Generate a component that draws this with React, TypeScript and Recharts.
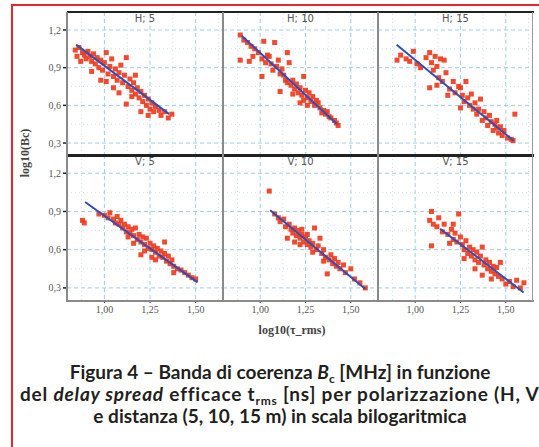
import { ScatterChart, Scatter, XAxis, YAxis, CartesianGrid, ReferenceLine } from "recharts"

const xTicks = [1.0, 1.25, 1.5]
const yTicks = [0.3, 0.6, 0.9, 1.2]
const xMinor = [0.875, 1.125, 1.375, 1.625]
const yMinor = [0.45, 0.75, 1.05]
const panelLabels = ["H; 5", "H; 10", "H; 15", "V; 5", "V; 10", "V; 15"]

// log10(tau_rms), log10(Bc)
const h5 = [
  [0.84, 1.04], [0.85, 0.99], [0.86, 1.06], [0.87, 0.95], [0.88, 1.02], [0.89, 1.0], [0.9, 0.97],
  [0.91, 1.03], [0.92, 0.99], [0.93, 0.95], [0.94, 1.01], [0.95, 0.93], [0.96, 0.98], [0.97, 0.9],
  [0.98, 0.96], [0.99, 0.88], [1.0, 0.94], [1.01, 1.02], [1.02, 0.85], [1.03, 0.91], [1.04, 0.97],
  [1.05, 0.83], [1.06, 0.89], [1.07, 0.8], [1.08, 0.86], [1.09, 0.92], [1.1, 0.78], [1.11, 0.84],
  [1.12, 0.98], [1.13, 0.75], [1.14, 0.81], [1.15, 0.72], [1.16, 0.78], [1.17, 0.69], [1.18, 0.74],
  [1.19, 0.66], [1.2, 0.71], [1.21, 0.63], [1.22, 0.68], [1.23, 0.6], [1.24, 0.65], [1.25, 0.57],
  [1.26, 0.62], [1.27, 0.55], [1.28, 0.59], [1.3, 0.56], [1.31, 0.52], [1.33, 0.55], [1.35, 0.5],
  [1.37, 0.53], [1.12, 0.61], [1.05, 0.74], [0.98, 0.8], [0.93, 0.87], [1.2, 0.55], [1.24, 0.52],
  [1.15, 0.67], [1.01, 0.79], [1.08, 0.7], [1.17, 0.84],
]
const h10 = [
  [0.89, 1.16], [0.91, 1.12], [0.93, 1.1], [0.95, 1.07], [0.97, 1.05], [1.02, 1.11], [1.08, 1.1],
  [1.15, 1.02], [0.89, 0.96], [0.94, 0.95], [0.99, 1.02], [1.01, 0.97], [1.03, 0.94], [1.04, 1.0],
  [1.06, 0.93], [1.07, 0.88], [1.09, 0.91], [1.11, 0.85], [1.12, 0.89], [1.16, 0.94], [1.01, 0.83],
  [1.14, 0.8], [1.13, 0.84], [1.17, 0.76], [1.18, 0.8], [1.19, 0.73], [1.2, 0.77], [1.21, 0.7],
  [1.22, 0.74], [1.24, 0.83], [1.23, 0.68], [1.25, 0.72], [1.26, 0.66], [1.27, 0.7], [1.28, 0.63],
  [1.29, 0.67], [1.3, 0.6], [1.31, 0.64], [1.11, 0.71], [1.18, 0.69], [1.33, 0.58], [1.34, 0.54],
  [1.35, 0.56], [1.36, 0.53], [1.37, 0.55], [1.38, 0.51], [1.39, 0.5], [1.41, 0.48], [1.42, 0.46],
  [1.43, 0.44], [1.05, 0.99], [1.1, 0.96], [1.26, 0.6], [1.24, 0.64], [1.15, 0.78], [0.96, 0.99],
  [1.22, 0.62], [1.32, 0.62],
]
const h15 = [
  [0.9, 0.96], [0.92, 1.0], [0.95, 0.97], [0.97, 0.95], [0.99, 1.03], [1.01, 0.93], [1.03, 0.9],
  [1.06, 0.98], [1.08, 1.02], [1.09, 0.94], [1.1, 0.88], [1.11, 0.99], [1.12, 0.91], [1.14, 0.97],
  [1.16, 0.96], [1.13, 0.82], [1.15, 0.79], [1.17, 0.86], [1.08, 0.74], [1.12, 0.76], [1.19, 0.73],
  [1.21, 0.79], [1.22, 0.7], [1.24, 0.75], [1.25, 0.74], [1.26, 0.68], [1.28, 0.79], [1.27, 0.63],
  [1.29, 0.66], [1.3, 0.6], [1.31, 0.69], [1.33, 0.62], [1.35, 0.57], [1.34, 0.53], [1.36, 0.65],
  [1.38, 0.55], [1.39, 0.5], [1.41, 0.52], [1.42, 0.47], [1.4, 0.44], [1.43, 0.4], [1.44, 0.45],
  [1.45, 0.42], [1.46, 0.38], [1.47, 0.43], [1.48, 0.36], [1.49, 0.4], [1.51, 0.34], [1.53, 0.33],
  [1.54, 0.32], [1.55, 0.53], [1.25, 0.58], [1.37, 0.48], [1.32, 0.57], [1.18, 0.68], [1.45, 0.48],
]
const v5 = [
  [0.88, 0.83], [0.89, 0.81], [0.97, 0.88], [1.0, 0.87], [1.02, 0.85], [1.03, 0.89], [1.05, 0.84],
  [1.06, 0.81], [1.07, 0.86], [1.08, 0.8], [1.09, 0.83], [1.1, 0.77], [1.11, 0.8], [1.12, 0.74],
  [1.13, 0.78], [1.14, 0.73], [1.15, 0.76], [1.16, 0.71], [1.17, 0.77], [1.18, 0.68], [1.19, 0.72],
  [1.2, 0.66], [1.21, 0.7], [1.22, 0.64], [1.23, 0.69], [1.24, 0.61], [1.25, 0.65], [1.26, 0.6],
  [1.27, 0.63], [1.28, 0.58], [1.29, 0.61], [1.3, 0.55], [1.31, 0.59], [1.32, 0.54], [1.33, 0.57],
  [1.34, 0.51], [1.35, 0.55], [1.36, 0.49], [1.37, 0.52], [1.38, 0.47], [1.4, 0.45], [1.42, 0.44],
  [1.44, 0.42], [1.46, 0.4], [1.48, 0.38], [1.5, 0.37], [1.33, 0.66], [1.2, 0.56], [1.16, 0.65],
  [1.26, 0.54], [1.22, 0.59], [1.38, 0.42], [1.13, 0.7], [1.28, 0.52],
]
const v10 = [
  [1.05, 1.06], [1.08, 0.88], [1.1, 0.85], [1.11, 0.82], [1.13, 0.84], [1.14, 0.78], [1.15, 0.69],
  [1.16, 0.8], [1.17, 0.76], [1.18, 0.73], [1.19, 0.77], [1.2, 0.71], [1.21, 0.75], [1.22, 0.69],
  [1.23, 0.72], [1.24, 0.66], [1.25, 0.7], [1.26, 0.64], [1.27, 0.67], [1.28, 0.62], [1.29, 0.65],
  [1.3, 0.77], [1.31, 0.6], [1.32, 0.63], [1.33, 0.69], [1.34, 0.57], [1.35, 0.6], [1.36, 0.54],
  [1.37, 0.41], [1.38, 0.52], [1.39, 0.56], [1.4, 0.49], [1.41, 0.53], [1.42, 0.47], [1.43, 0.5],
  [1.44, 0.45], [1.46, 0.48], [1.47, 0.42], [1.5, 0.45], [1.52, 0.37], [1.55, 0.34], [1.58, 0.3],
  [1.22, 0.64], [1.26, 0.72], [1.19, 0.66], [1.29, 0.58], [1.35, 0.51], [1.23, 0.76],
]
const v15 = [
  [1.09, 0.9], [1.08, 0.83], [1.1, 0.8], [1.09, 0.63], [1.12, 0.78], [1.13, 0.85], [1.15, 0.74],
  [1.16, 0.8], [1.18, 0.72], [1.2, 0.76], [1.21, 0.68], [1.22, 0.73], [1.24, 0.88], [1.23, 0.66],
  [1.25, 0.7], [1.26, 0.64], [1.27, 0.6], [1.28, 0.67], [1.29, 0.57], [1.3, 0.62], [1.31, 0.55],
  [1.32, 0.6], [1.33, 0.52], [1.34, 0.58], [1.35, 0.5], [1.36, 0.55], [1.37, 0.62], [1.38, 0.48],
  [1.39, 0.52], [1.4, 0.45], [1.41, 0.5], [1.42, 0.43], [1.43, 0.47], [1.44, 0.41], [1.45, 0.46],
  [1.46, 0.39], [1.47, 0.5], [1.48, 0.37], [1.37, 0.4], [1.5, 0.33], [1.52, 0.35], [1.54, 0.31],
  [1.56, 0.36], [1.58, 0.3], [1.6, 0.34], [1.19, 0.65], [1.27, 0.53], [1.33, 0.45], [1.42, 0.37],
  [1.21, 0.8],
]

// fitted lines: start and end points
const fitH5 = [[0.845, 1.083], [1.355, 0.53]]
const fitH10 = [[0.898, 1.154], [1.423, 0.451]]
const fitH15 = [[0.898, 1.083], [1.543, 0.319]]
const fitV5 = [[0.894, 0.974], [1.511, 0.343]]
const fitV10 = [[1.055, 0.909], [1.58, 0.291]]
const fitV15 = [[1.138, 0.764], [1.598, 0.264]]

const series = [h5, h10, h15, v5, v10, v15]
const fits = [fitH5, fitH10, fitH15, fitV5, fitV10, fitV15]

const colLeft = [67, 223, 378]
const colWidth = [156, 155, 155]
const rowTop = [12, 155]
const rowHeight = [143, 145]
const yAxisW = 55
const xAxisH = 22

const axisFont = "'Liberation Serif', 'DejaVu Serif', serif"
const comma = (v: number, d: number) => v.toFixed(d).replace(".", ",")

const SquareDot = (props: any) => {
  const { cx, cy } = props
  if (cx == null || cy == null) return null
  return <rect x={cx - 2.5} y={cy - 2.5} width={5} height={5} fill="#f03b1d" fillOpacity={0.92} />
}
const NoDot = () => null

function Panel({ idx }: { idx: number }) {
  const col = idx % 3
  const row = Math.floor(idx / 3)
  const showY = col === 0
  const showX = row === 1
  const w = colWidth[col] + (showY ? yAxisW : 0)
  const h = rowHeight[row] + (showX ? xAxisH : 0)
  const data = series[idx].map(([x, y]) => ({ x, y }))
  const fitData = fits[idx].map(([x, y]) => ({ x, y }))
  return (
    <div style={{ position: "absolute", left: colLeft[col] - (showY ? yAxisW : 0), top: rowTop[row] }}>
      <ScatterChart width={w} height={h} margin={{ top: 0, right: 0, bottom: 0, left: 0 }}>
        <CartesianGrid horizontalValues={yTicks} verticalValues={xTicks} stroke="#9fcdea" strokeDasharray="4 3" />
        {xMinor.map((v) => (
          <ReferenceLine key={"vx" + v} x={v} stroke="#c6e3f4" strokeDasharray="1 3" />
        ))}
        {yMinor.map((v) => (
          <ReferenceLine key={"hy" + v} y={v} stroke="#c6e3f4" strokeDasharray="1 3" />
        ))}
        <XAxis
          type="number"
          dataKey="x"
          domain={[0.795, 1.65]}
          ticks={xTicks}
          hide={!showX}
          height={xAxisH}
          allowDataOverflow
          axisLine={false}
          tickLine={{ stroke: "#333" }}
          tickSize={3}
          tickMargin={3}
          tickFormatter={(v: number) => comma(v, 2)}
          tick={{ fill: "#555", fontSize: 10, fontFamily: axisFont }}
        />
        <YAxis
          type="number"
          dataKey="y"
          domain={[0.205, 1.343]}
          ticks={yTicks}
          hide={!showY}
          width={yAxisW}
          allowDataOverflow
          axisLine={false}
          tickLine={{ stroke: "#222", strokeWidth: 1.5 }}
          tickSize={4}
          tickMargin={2}
          tickFormatter={(v: number) => comma(v, 1)}
          tick={{ fill: "#555", fontSize: 10, fontFamily: axisFont }}
        />
        <Scatter data={data} shape={SquareDot} isAnimationActive={false} />
        <Scatter
          data={fitData}
          shape={NoDot}
          line={{ stroke: "#2c4fb8", strokeWidth: 2 }}
          isAnimationActive={false}
        />
      </ScatterChart>
      <div
        style={{
          position: "absolute",
          left: showY ? yAxisW : 0,
          width: colWidth[col],
          top: 1,
          textAlign: "center",
          fontFamily: "'DejaVu Sans', sans-serif",
          fontSize: 10,
          color: "#555",
        }}
      >
        {panelLabels[idx]}
      </div>
    </div>
  )
}

const line = (style: React.CSSProperties) => <div style={{ position: "absolute", ...style }} />

export default function App() {
  const capFont = "Lato, 'Open Sans', sans-serif"
  const sub: React.CSSProperties = { fontSize: 12, verticalAlign: "-4px", lineHeight: 0 }
  const capLine: React.CSSProperties = { position: "absolute", left: 0, width: 560, textAlign: "center", whiteSpace: "nowrap" }
  return (
    <div style={{ position: "fixed", left: 0, top: 0, width: 539, height: 447, background: "#fff", overflow: "hidden" }}>
      <div style={{ position: "absolute", left: 11, top: 4, width: 600, height: 600, border: "2px solid #e8262c" }} />
      {[0, 1, 2, 3, 4, 5].map((i) => (
        <Panel key={i} idx={i} />
      ))}
      {/* panel frame */}
      {line({ left: 67, top: 11, width: 467, height: 2, background: "#222" })}
      {line({ left: 67, top: 154, width: 467, height: 3, background: "#222" })}
      {line({ left: 66, top: 300, width: 468, height: 2, background: "#8a8a8a" })}
      {line({ left: 66, top: 12, width: 2, height: 290, background: "#8a8a8a" })}
      {line({ left: 222, top: 12, width: 2, height: 290, background: "#8a8a8a" })}
      {line({ left: 377, top: 12, width: 2, height: 290, background: "#8a8a8a" })}
      {line({ left: 532, top: 12, width: 1, height: 290, background: "#9a9a9a" })}
      {/* axis titles */}
      <div
        style={{
          position: "absolute",
          left: 25,
          top: 153,
          transform: "translate(-50%, -50%) rotate(-90deg)",
          fontFamily: axisFont,
          fontWeight: "bold",
          fontSize: 12,
          color: "#444",
          whiteSpace: "nowrap",
        }}
      >
        log10(Bc)
      </div>
      <div
        style={{
          position: "absolute",
          left: 292,
          top: 330,
          transform: "translate(-50%, -50%)",
          fontFamily: axisFont,
          fontWeight: "bold",
          fontSize: 12,
          color: "#444",
          whiteSpace: "nowrap",
        }}
      >
        log10(τ_rms)
      </div>
      {/* caption */}
      <div style={{ position: "absolute", left: 0, top: 361, fontFamily: capFont, fontWeight: 700, fontSize: 19, lineHeight: "22px", color: "#231f20" }}>
        <div style={{ ...capLine, top: 0 }}>
          Figura 4 – Banda di coerenza <i>B</i>
          <span style={sub}>c</span> [MHz] in funzione
        </div>
        <div style={{ position: "absolute", left: 20, top: 22, whiteSpace: "nowrap", letterSpacing: 0.8 }}>
          del <i>delay spread</i> efficace t<span style={sub}>rms</span> [ns] per polarizzazione (H, V)
        </div>
        <div style={{ ...capLine, top: 44 }}>e distanza (5, 10, 15 m) in scala bilogaritmica</div>
      </div>
    </div>
  )
}
